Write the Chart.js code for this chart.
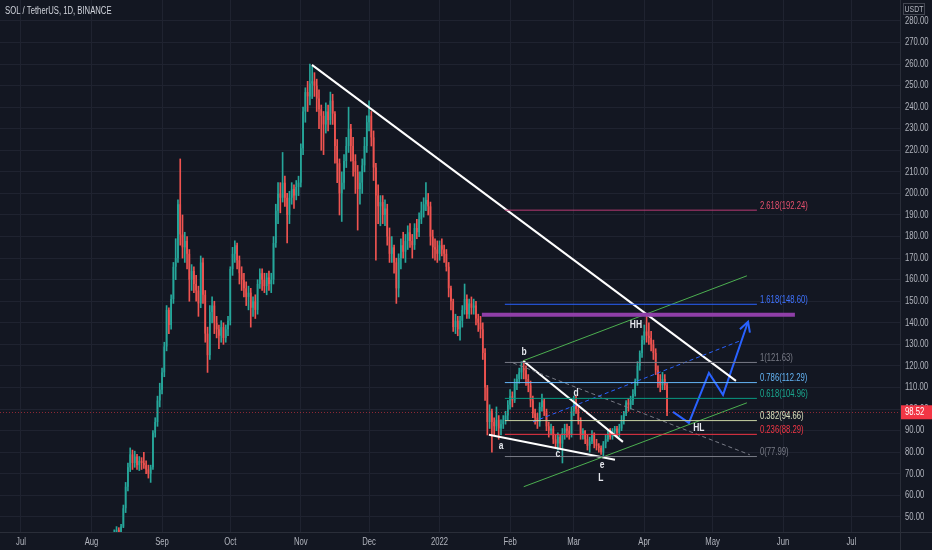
<!DOCTYPE html>
<html>
<head>
<meta charset="utf-8">
<script src="https://cdn.jsdelivr.net/npm/chart.js@4.4.1/dist/chart.umd.min.js"></script>
<style>
  html, body { margin: 0; padding: 0; background: #131722; }
  #wrap { width: 932px; height: 550px; }
</style>
</head>
<body>
<div id="wrap"><canvas id="solChart" width="932" height="550"></canvas></div>
<script>
// day index = days since 2021-07-01, first candle is 2021-08-09
const FIRST_DAY = 40;
const FIRST_OPEN = 38.5;

const closes = [
  41.5,42.5,44,43,45.5,54,64,73,79,75, 78,74,76,75,74,72,70,73,89,94, 104,109,                              // Aug
  117,129,146,139,151,166,170,195,181,175, 178,172,160,164,158,155,149,168,153,135, 125,145,148,140,137,134,138,133,137,141, // Sep
  165,172,176,169,163,160,156,152,154,147, 150,146,158,163,160,157,161,158,160,177, 192,200,198,205,198,190,198,202,199,203, 205, // Oct
  221,238,247,245,251,252,250,244,239,236, 232,238,234,243,237,222,214,200,205,215, 222,230,222,215,210,202,205,213,222,233, // Nov
  236,226,212,199,194,196,190,193,180,172, 175,168,156,170,176,173,178,182,178,176, 184,182,188,192,195,197,194,180,175,174, 172, // Dec
  176,174,172,166,156,150,138,141,137,141, 146,151,144,149,147,148,142,140,137,126, 110,94,99,94,92,95,91,93,95,97, 102,  // Jan
  106,104,112,114,117,119,118,114,111,104, 98,96,94,101,104,99,92,90,91,86, 84,87,84,89,91,90,88,99,            // Feb
  103,100,95,88,90,86,83,85,88,84, 83,82,80,84,86,89,87,90,91,89, 91,95,98,103,102,104,107,113,120,126, 132,    // Mar
  136,134,133,130,126,118,113,111,114,111,98.52                                                                    // Apr
];
const highs = [
  42.5,44,45.5,45,46.5,55.5,66,75,82,81, 80.5,79,78,77.5,80,76,74,74,90,96, 106,112,
  119,131,148,147,153,168,179,197,216,190, 182,180,174,167,166,162,157,171,170,155, 138,148,152,150,143,139,141,140,139,143,
  166,175,178,177,171,166,163,159,157,156, 152,153,160,165,165,163,163,164,163,180, 195,205,205,219,208,200,201,205,204,206, 208,
  223,240,249,252,260,259,256,253,248,241, 238,242,241,247,246,238,225,216,210,218, 226,240,232,226,218,213,210,216,226,236,
  243,238,229,214,204,199,199,197,195,184, 180,176,170,172,179,182,181,185,186,181, 186,188,191,196,198,205,200,196,183,179, 178,
  178,179,176,174,168,157,151,144,143,143, 148,158,153,151,152,151,150,144,143,140, 128,111,102,100,96,101,97,95,97,99, 104,
  109,108,114,116,119,122,122.5,120,116,113, 106,100,98,103,107,105,100,94,93,92, 88,89,88,91,93,93,92,101,
  106,106,101,96,91,90,88,87,90,89, 86,84,83,85,88,90,91,91,92,92, 93,97,99,104,105,106,109,114,122,127, 134,
  139,143.6,140,136,132,128,120,116,117,116,112
];
const lows = [
  37.8,40.5,41.5,41.8,42.5,45,52,62,71,72, 73,72,71.5,72,72.5,70,68,66,72,87, 92,101,
  107,115,127,135,137,149,160,168,176,170, 168,165,150,155,154,150,143,147,149,131, 117,123,140,135,133,128,131,130,131,134,
  139,162,168,165,158,155,152,148,146,138, 143,142,144,156,155,154,153,155,154,158, 175,186,191,196,194,177,186,195,193,197, 199,
  203,218,233,238,241,244,245,238,230,220, 218,228,229,232,232,214,205,190,187,202, 212,219,215,208,200,183,195,200,210,219,
  229,222,206,169,186,185,186,185,176,168, 168,163,149,152,165,170,168,174,175,170, 174,179,180,186,189,192,190,176,170,169, 168,
  169,171,168,164,152,146,136,135,134,132, 138,144,142,142,144,144,139,136,133,123, 104,88,91,80,88,90,86,88,91,93, 95,
  100,101,103,109,112,114,114,111,108,101, 96,93,91,92,99,97,90,87,88,84, 82,81,82,75,86,87,86,87,
  97,98,93,86,86,84,81,80,84,82, 81,80,79,78,82,85,86,86,88,87, 87,90,93,97,99,100,102,106,111,118, 124,
  130,131,130,127,123,116,110,108,109,109,97
];

const monthDays = [0, 31, 62, 92, 123, 153, 184, 215, 243, 274, 304, 335, 365];
const monthLabels = ['Jul', 'Aug', 'Sep', 'Oct', 'Nov', 'Dec', '2022', 'Feb', 'Mar', 'Apr', 'May', 'Jun', 'Jul'];
const priceTicks = [50, 60, 70, 80, 90, 100, 110, 120, 130, 140, 150, 160, 170, 180, 190, 200, 210, 220, 230, 240, 250, 260, 270, 280];

// fibonacci extension drawn from the a..b swing
const fibRatios = ['0', '0.236', '0.382', '0.618', '0.786', '1', '1.618', '2.618'];
const fibPrices = [77.99, 88.29, 94.66, 104.96, 112.29, 121.63, 148.60, 192.24];
const fibStart = 212.7;
const fibEnd = 323.5;
const lastPrice = 98.52;

// hand drawn lines, [day, price]
const mainTrend = [[127.9, 259.6], [314.3, 113.1]];
const wedgeTop = [[220.7, 122.4], [264.6, 84.8]];
const wedgeBottom = [[205.7, 88.1], [261.1, 76.5]];
const channelTop = [[220.7, 122.4], [319.1, 161.8]];
const channelBottom = [[221.0, 64.0], [319.1, 102.9]];
const blueDashed = [[225.1, 94.1], [316.0, 131.6]];
const greyDashed = [[216.3, 121.4], [320.4, 78.8]];
const resistance = [[202.6, 143.7], [340.2, 143.7]];
const projection = [[286.6, 98.7], [293.6, 93.6], [302.4, 116.8], [308.6, 106.6], [319.6, 140.5]];

const waveLabels = ['a', 'b', 'c', 'd', 'e', 'L', 'HH', 'HL'];
const waveAt = [[211.0, 82.9], [221.1, 126.5], [236.0, 79.2], [244.0, 107.5], [255.4, 74.1], [254.9, 68.1], [270.3, 139.0], [298.0, 91.3]];

const fibColors = ['#787b86', '#f23645', '#c9d3a4', '#089981', '#64b5f6', '#787b86', '#2962ff', '#b83b74'];
const fibTextColors = ['#787b86', '#f23645', '#d9e0bd', '#1aa88f', '#64b5f6', '#787b86', '#3f73ff', '#e5506e'];

const UP = '#26a69a';
const DOWN = '#ef5350';
const FONT = "'Liberation Sans', Arial, sans-serif";
const SQUEEZE = 0.77; // the screenshot text is narrow

const opens = closes.map((c, i) => i === 0 ? FIRST_OPEN : closes[i - 1]);
const days = closes.map((c, i) => FIRST_DAY + i);
const candleColors = closes.map((c, i) => c >= opens[i] ? UP : DOWN);

function lineSet(pts, color, width, dash) {
    return {
        type: 'line',
        data: pts.map(p => ({ x: p[0], y: p[1] })),
        borderColor: color,
        borderWidth: width,
        borderDash: dash || [],
        pointRadius: 0,
        fill: false,
        tension: 0,
        order: 0
    };
}

// narrow text helper
function say(c, text, x, y, opt) {
    c.save();
    c.font = (opt.bold ? 'bold ' : '') + opt.size + 'px ' + FONT;
    c.fillStyle = opt.color;
    c.textBaseline = 'middle';
    c.textAlign = 'left';
    const w = c.measureText(text).width * SQUEEZE;
    let left = x;
    if (opt.align === 'center') left = x - w / 2;
    if (opt.align === 'right') left = x - w;
    c.translate(left, y);
    c.scale(SQUEEZE, 1);
    c.fillText(text, 0, 0);
    c.restore();
}

const datasets = [
    {
        type: 'bar',
        data: days.map((d, i) => ({ x: d, y: [Math.min(lows[i], opens[i], closes[i]), Math.max(highs[i], opens[i], closes[i])] })),
        backgroundColor: candleColors,
        barThickness: 1,
        grouped: false,
        borderWidth: 0,
        order: 10
    },
    {
        type: 'bar',
        data: days.map((d, i) => ({ x: d, y: [opens[i], closes[i]] })),
        backgroundColor: candleColors,
        categoryPercentage: 1,
        barPercentage: 0.72,
        grouped: false,
        borderWidth: 0,
        order: 9
    }
];

fibPrices.forEach((p, i) => {
    datasets.push(lineSet([[fibStart, p], [fibEnd, p]], fibColors[i], 1));
});
datasets.push(lineSet(resistance, '#8f3fa8', 4));
datasets.push(lineSet(channelTop, '#4caf50', 1));
datasets.push(lineSet(channelBottom, '#4caf50', 1));
datasets.push(lineSet(blueDashed, '#2962ff', 1, [4, 3]));
datasets.push(lineSet(greyDashed, '#787b86', 1, [4, 3]));
datasets.push(lineSet(mainTrend, '#ffffff', 2));
datasets.push(lineSet(wedgeTop, '#ffffff', 2));
datasets.push(lineSet(wedgeBottom, '#ffffff', 2));
datasets.push(lineSet(projection, '#2962ff', 2));

const overlay = {
    id: 'overlay',
    beforeDraw(chart) {
        const c = chart.ctx;
        c.save();
        c.fillStyle = '#131722';
        c.fillRect(0, 0, chart.width, chart.height);
        c.restore();
    },
    afterDatasetsDraw(chart) {
        const c = chart.ctx;
        const x = chart.scales.x, y = chart.scales.y;
        const area = chart.chartArea;
        c.save();

        // last price line
        const py = Math.round(y.getPixelForValue(lastPrice)) + 0.5;
        c.strokeStyle = 'rgba(242,54,69,0.55)';
        c.lineWidth = 1;
        c.setLineDash([1, 2]);
        c.beginPath();
        c.moveTo(area.left, py);
        c.lineTo(area.right, py);
        c.stroke();
        c.setLineDash([]);

        // fib level texts
        fibPrices.forEach((p, i) => {
            say(c, fibRatios[i] + '(' + p.toFixed(2) + ')', x.getPixelForValue(fibEnd) + 3, y.getPixelForValue(p) - 4,
                { size: 10, color: fibTextColors[i] });
        });

        // wave labels
        waveLabels.forEach((t, i) => {
            say(c, t, x.getPixelForValue(waveAt[i][0]), y.getPixelForValue(waveAt[i][1]),
                { size: 11, bold: true, color: '#e6e8ee', align: 'center' });
        });

        // arrow head on projection
        const n = projection.length;
        const ex = x.getPixelForValue(projection[n - 1][0]), ey = y.getPixelForValue(projection[n - 1][1]);
        const sx = x.getPixelForValue(projection[n - 2][0]), sy = y.getPixelForValue(projection[n - 2][1]);
        const ang = Math.atan2(ey - sy, ex - sx);
        c.strokeStyle = '#2962ff';
        c.lineWidth = 2;
        c.beginPath();
        c.moveTo(ex - 11 * Math.cos(ang - 0.5), ey - 11 * Math.sin(ang - 0.5));
        c.lineTo(ex, ey);
        c.lineTo(ex - 11 * Math.cos(ang + 0.5), ey - 11 * Math.sin(ang + 0.5));
        c.stroke();
        c.restore();
    },
    afterDraw(chart) {
        const c = chart.ctx;
        const x = chart.scales.x, y = chart.scales.y;
        const area = chart.chartArea;
        c.save();
        // axis borders
        c.strokeStyle = '#2a2e39';
        c.lineWidth = 1;
        c.beginPath();
        c.moveTo(area.right + 0.5, 0);
        c.lineTo(area.right + 0.5, chart.height);
        c.moveTo(0, area.bottom + 0.5);
        c.lineTo(chart.width, area.bottom + 0.5);
        c.stroke();

        // axis labels
        priceTicks.forEach(v => {
            say(c, v.toFixed(2), area.right + 5, y.getPixelForValue(v), { size: 10, color: '#b2b5be' });
        });
        monthDays.forEach((v, i) => {
            say(c, monthLabels[i], x.getPixelForValue(v), area.bottom + 10,
                { size: 10, color: '#b2b5be', align: 'center' });
        });

        // price tag
        const py = y.getPixelForValue(lastPrice);
        c.fillStyle = '#f23645';
        c.fillRect(area.right + 1, py - 7, chart.width - area.right - 1, 14);
        say(c, lastPrice.toFixed(2), area.right + 5, py, { size: 10, color: '#ffffff' });

        // currency box
        c.strokeStyle = '#434651';
        c.strokeRect(area.right + 3.5, 3.5, 21, 11);
        say(c, 'USDT', area.right + 14, 9.5, { size: 9, color: '#b2b5be', align: 'center' });

        // title
        say(c, 'SOL / TetherUS, 1D, BINANCE', 5, 11, { size: 10, color: '#d1d4dc' });
        c.restore();
    }
};

new Chart(document.getElementById('solChart').getContext('2d'), {
    type: 'bar',
    data: { datasets: datasets },
    options: {
        responsive: false,
        animation: false,
        devicePixelRatio: 1,
        layout: { padding: 0, autoPadding: false },
        plugins: { legend: { display: false }, tooltip: { enabled: false } },
        scales: {
            x: {
                type: 'linear',
                min: -9.23,
                max: 386.4,
                offset: false,
                grid: { color: '#1f2330', offset: false, drawTicks: false },
                border: { display: false },
                afterFit: s => { s.height = 18; },
                afterBuildTicks: s => { s.ticks = monthDays.map(v => ({ value: v })); },
                ticks: { display: false }
            },
            y: {
                type: 'linear',
                position: 'right',
                min: 43.0,
                max: 289.7,
                grid: { color: '#1f2330', drawTicks: false },
                border: { display: false },
                afterFit: s => { s.width = 32; },
                afterBuildTicks: s => { s.ticks = priceTicks.map(v => ({ value: v })); },
                ticks: { display: false }
            }
        }
    },
    plugins: [overlay]
});
</script>
</body>
</html>
